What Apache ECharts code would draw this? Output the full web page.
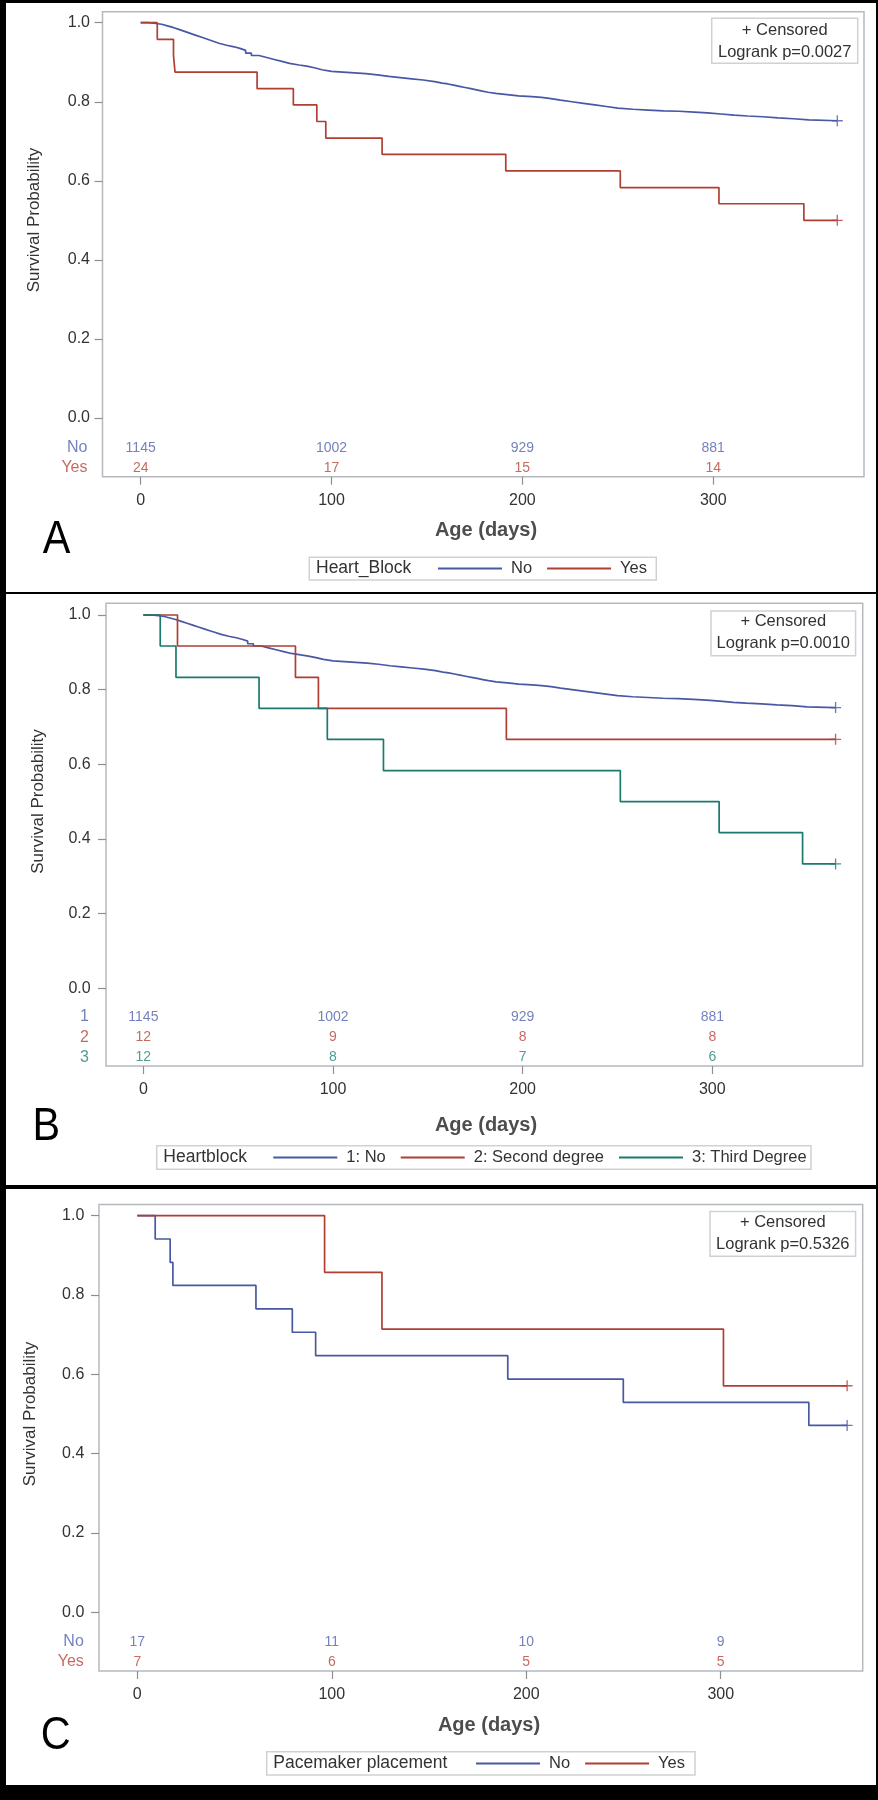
<!DOCTYPE html>
<html><head><meta charset="utf-8">
<script src="https://cdn.jsdelivr.net/npm/echarts@6/dist/echarts.min.js"></script>
<style>
html,body{margin:0;padding:0;background:#000;}
#wrap{position:relative;width:878px;height:1800px;background:#000;overflow:hidden;}
.panel{position:absolute;background:#fff;}
</style></head><body>
<div id="wrap">
<div id="pA" class="panel" style="left:6px;top:3px;width:870px;height:589px"></div>
<div id="pB" class="panel" style="left:6px;top:594px;width:870px;height:591px"></div>
<div id="pC" class="panel" style="left:6px;top:1189px;width:870px;height:596px"></div>
</div>
<script>
// ---------- data ----------
const xTicks = [0, 100, 200, 300];
const yTicks = [0, 0.2, 0.4, 0.6, 0.8, 1.0];

// Heart block "No" (1145 at risk) – read off the staircase
const noDays = [0,4,8,11,14,17,20,23,26,29,32,35,38,41,45,49,52,55,58,62,66,70,74,78,83,87,91,95,100,106,112,118,124,130,136,142,148,154,158,161,164,167,170,173,176,179,182,186,192,198,205,210,215,220,226,232,238,244,250,258,266,274,282,290,297,304,311,318,326,334,342,350,365];
const noSurv = [1.000,0.998,0.996,0.992,0.988,0.983,0.978,0.973,0.968,0.963,0.958,0.953,0.948,0.943,0.939,0.935,0.930,0.923,0.917,0.912,0.907,0.902,0.897,0.893,0.890,0.886,0.881,0.877,0.875,0.873,0.871,0.868,0.864,0.861,0.858,0.855,0.851,0.847,0.845,0.842,0.839,0.836,0.833,0.830,0.827,0.824,0.821,0.818,0.815,0.813,0.811,0.808,0.804,0.800,0.796,0.792,0.788,0.784,0.781,0.779,0.777,0.776,0.774,0.772,0.769,0.766,0.764,0.762,0.759,0.757,0.754,0.752,0.752];

// Heart block "Yes" (24)
const hbYesDays = [0, 8.7, 17.2, 18, 61, 80, 92.3, 97, 126.5, 191.3, 251.3, 303, 347.5, 365];
const hbYesSurv = [1, 0.958, 0.917, 0.875, 0.833, 0.792, 0.750, 0.708, 0.667, 0.625, 0.583, 0.542, 0.500, 0.500];

// Second degree (12)
const secDays = [0, 18, 80.2, 92.3, 191.4, 365];
const secSurv = [1, 0.917, 0.833, 0.750, 0.667, 0.667];

// Third degree (12)
const thirdDays = [0, 8.9, 17.2, 61, 97, 126.6, 251.5, 303.6, 347.6, 365];
const thirdSurv = [1, 0.917, 0.833, 0.750, 0.667, 0.583, 0.500, 0.417, 0.333, 0.333];

// Pacemaker No (17) / Yes (7)
const pmNoDays = [0, 9.2, 16.9, 18.3, 61, 79.7, 91.7, 190.5, 249.9, 345.3, 365];
const pmNoSurv = [1, 0.941, 0.882, 0.824, 0.765, 0.706, 0.647, 0.588, 0.529, 0.471, 0.471];
const pmYesDays = [0, 96.3, 125.8, 301.4, 365];
const pmYesSurv = [1, 0.857, 0.714, 0.571, 0.571];

// numbers at risk at days 0/100/200/300
const riskHbNo = [1145, 1002, 929, 881];
const riskHbYes = [24, 17, 15, 14];
const riskHb1 = [1145, 1002, 929, 881];
const riskHb2 = [12, 9, 8, 8];
const riskHb3 = [12, 8, 7, 6];
const riskPmNo = [17, 11, 10, 9];
const riskPmYes = [7, 6, 5, 5];

// ---------- styles ----------
const FONT = '"Liberation Sans", Arial, Helvetica, sans-serif';
const BLUE = '#4858a4', RED = '#b03f33', GREEN = '#1a7a6d';
const BLUE_T = '#5262ab', RED_T = '#b5463a', GREEN_T = '#268577';
const PLUS = 'path://M4.4,0H5.6V4.4H10V5.6H5.6V10H4.4V5.6H0V4.4H4.4Z';

function txt(text, x, y, opts) {
  opts = opts || {};
  return {
    type: 'text', x: x, y: y, rotation: opts.rotation || 0, scaleX: opts.scaleX || 1,
    silent: true, z: 10,
    style: {
      text: text, fill: opts.color || '#333', fontSize: opts.size || 16,
      fontFamily: opts.family || FONT, fontWeight: opts.weight || 'normal',
      align: opts.align || 'left', verticalAlign: 'middle',
      textAlign: opts.align || 'left', textVerticalAlign: 'middle'
    }
  };
}
function box(b) {
  return { type: 'rect', silent: true, z: 9,
    shape: { x: b[0], y: b[1], width: b[2], height: b[3] },
    style: { fill: '#fff', stroke: '#cfd1d3', lineWidth: 1.5 } };
}

function buildOption(P) {
  const series = [];
  P.curves.forEach(c => {
    const pts = c.days.map((d, i) => [d, c.surv[i]]);
    series.push({ type: 'line', name: c.name, step: 'end', data: pts, symbol: 'none',
      lineStyle: { width: 1.7, color: c.color }, itemStyle: { color: c.color }, silent: true, z: 3 });
    series.push({ type: 'scatter', name: c.name, data: [pts[pts.length - 1]], symbol: PLUS,
      symbolSize: 11, itemStyle: { color: c.color }, silent: true, z: 4 });
  });
  P.risk.forEach(r => {
    series.push({ type: 'scatter', name: 'risk ' + r.label, silent: true, symbolSize: 1,
      itemStyle: { color: 'rgba(0,0,0,0)' },
      data: xTicks.map((x, i) => [x, r.y, r.counts[i]]),
      label: { show: true, position: 'inside', formatter: q => String(q.data[2]),
        color: r.color, fontSize: 14, fontFamily: FONT } });
    series.push({ type: 'scatter', name: 'row ' + r.label, silent: true, symbolSize: 1,
      itemStyle: { color: 'rgba(0,0,0,0)' },
      data: [[P.xMin, r.y]],
      label: { show: true, position: 'left', distance: P.rowDist, formatter: r.label,
        color: r.color, fontSize: 16, fontFamily: FONT } });
  });
  const L = P.legend, C = P.cens;
  return {
    animation: false,
    textStyle: { fontFamily: FONT },
    grid: Object.assign({ show: true, borderColor: '#b5b9be', borderWidth: 1.5,
      backgroundColor: 'transparent', containLabel: false }, P.grid),
    xAxis: { type: 'value', min: P.xMin, max: P.xMax,
      axisLine: { show: false, onZero: false },
      axisTick: { show: true, customValues: xTicks, length: 8, lineStyle: { color: '#8f8f8f', width: 1.2 } },
      axisLabel: { customValues: xTicks, formatter: v => String(v), fontSize: 16, color: '#333', margin: 16 },
      splitLine: { show: false } },
    yAxis: { type: 'value', min: P.yMin, max: P.yMax,
      axisLine: { show: false, onZero: false },
      axisTick: { show: true, customValues: yTicks, length: 8, lineStyle: { color: '#8f8f8f', width: 1.2 } },
      axisLabel: { customValues: yTicks, formatter: v => v.toFixed(1), fontSize: 16, color: '#333', margin: P.yLabelMargin },
      splitLine: { show: false } },
    legend: { data: P.curves.map(c => c.name), left: L.left, top: L.top, padding: 0,
      orient: 'horizontal', icon: 'rect', itemWidth: 64, itemHeight: 1.8, itemGap: 15,
      selectedMode: false, z: 12,
      textStyle: { fontSize: 16.5, color: '#333', fontFamily: FONT, padding: [0, 0, 0, 4] } },
    graphic: { elements: [
      box(L.box),
      txt(L.title, L.titleX, L.titleY, { size: 17.5 }),
      box(C.box),
      txt('+ Censored', C.cx, C.y1, { size: 16.5, align: 'center' }),
      txt(C.p, C.cx, C.y2, { size: 16.5, align: 'center' }),
      txt('Survival Probability', P.yTitle[0], P.yTitle[1], { size: 17, align: 'center', rotation: Math.PI / 2 }),
      txt('Age (days)', P.xTitle[0], P.xTitle[1], { size: 20, weight: 'bold', color: '#4d4d4d', align: 'center' }),
      txt(P.letter.t, P.letter.x, P.letter.y, { size: 46, color: '#000', scaleX: 0.9 })
    ] },
    series: series
  };
}

const panelA = {
  grid: { left: 96.5, top: 8.7, width: 761.5, height: 465 },
  xMin: -20, xMax: 379, yMin: -0.1485, yMax: 1.0278, yLabelMargin: 12.5, rowDist: 14.5,
  curves: [ { name: 'No', days: noDays, surv: noSurv, color: BLUE },
            { name: 'Yes', days: hbYesDays, surv: hbYesSurv, color: RED } ],
  risk: [ { label: 'No', counts: riskHbNo, color: BLUE_T, y: -0.0751 },
          { label: 'Yes', counts: riskHbYes, color: RED_T, y: -0.1257 } ],
  legend: { title: 'Heart_Block', box: [303.3, 554.3, 347, 22.7], titleX: 310, titleY: 565.3, left: 432, top: 557 },
  cens: { box: [705.7, 15.3, 146, 45], cx: 778.7, y1: 27, y2: 49.3, p: 'Logrank p=0.0027' },
  yTitle: [28.5, 217], xTitle: [480, 527.3], letter: { t: 'A', x: 36.7, y: 536.9 }
};
const panelB = {
  grid: { left: 100, top: 9.3, width: 756.7, height: 462.7 },
  xMin: -19.7, xMax: 379.3, yMin: -0.2085, yMax: 1.0314, yLabelMargin: 15.3, rowDist: 16.7,
  curves: [ { name: '1: No', days: noDays, surv: noSurv, color: BLUE },
            { name: '2: Second degree', days: secDays, surv: secSurv, color: RED },
            { name: '3: Third Degree', days: thirdDays, surv: thirdSurv, color: GREEN } ],
  risk: [ { label: '1', counts: riskHb1, color: BLUE_T, y: -0.0764 },
          { label: '2', counts: riskHb2, color: RED_T, y: -0.1316 },
          { label: '3', counts: riskHb3, color: GREEN_T, y: -0.1852 } ],
  legend: { title: 'Heartblock', box: [150.7, 551.7, 654.3, 23.6], titleX: 157.3, titleY: 563.3, left: 267.3, top: 555 },
  cens: { box: [705, 17, 144.6, 44.8], cx: 777.3, y1: 27.8, y2: 49.6, p: 'Logrank p=0.0010' },
  yTitle: [32.5, 207.5], xTitle: [480, 531.3], letter: { t: 'B', x: 26.5, y: 533 }
};
const panelC = {
  grid: { left: 93, top: 15.5, width: 763.7, height: 466.5 },
  xMin: -19.7, xMax: 373, yMin: -0.148, yMax: 1.028, yLabelMargin: 14.7, rowDist: 14.7,
  curves: [ { name: 'No', days: pmNoDays, surv: pmNoSurv, color: BLUE },
            { name: 'Yes', days: pmYesDays, surv: pmYesSurv, color: RED } ],
  risk: [ { label: 'No', counts: riskPmNo, color: BLUE_T, y: -0.0741 },
          { label: 'Yes', counts: riskPmYes, color: RED_T, y: -0.1245 } ],
  legend: { title: 'Pacemaker placement', box: [260.7, 562.7, 428.3, 23.3], titleX: 267.3, titleY: 574.3, left: 470, top: 566 },
  cens: { box: [704, 22.6, 145.6, 44.7], cx: 776.8, y1: 33.3, y2: 55.5, p: 'Logrank p=0.5326' },
  yTitle: [24.5, 225], xTitle: [483, 536.8], letter: { t: 'C', x: 34.7, y: 547.7 }
};

[['pA', panelA], ['pB', panelB], ['pC', panelC]].forEach(([id, P]) => {
  const chart = echarts.init(document.getElementById(id), null, { renderer: 'canvas' });
  chart.setOption(buildOption(P));
});
</script>
</body></html>
